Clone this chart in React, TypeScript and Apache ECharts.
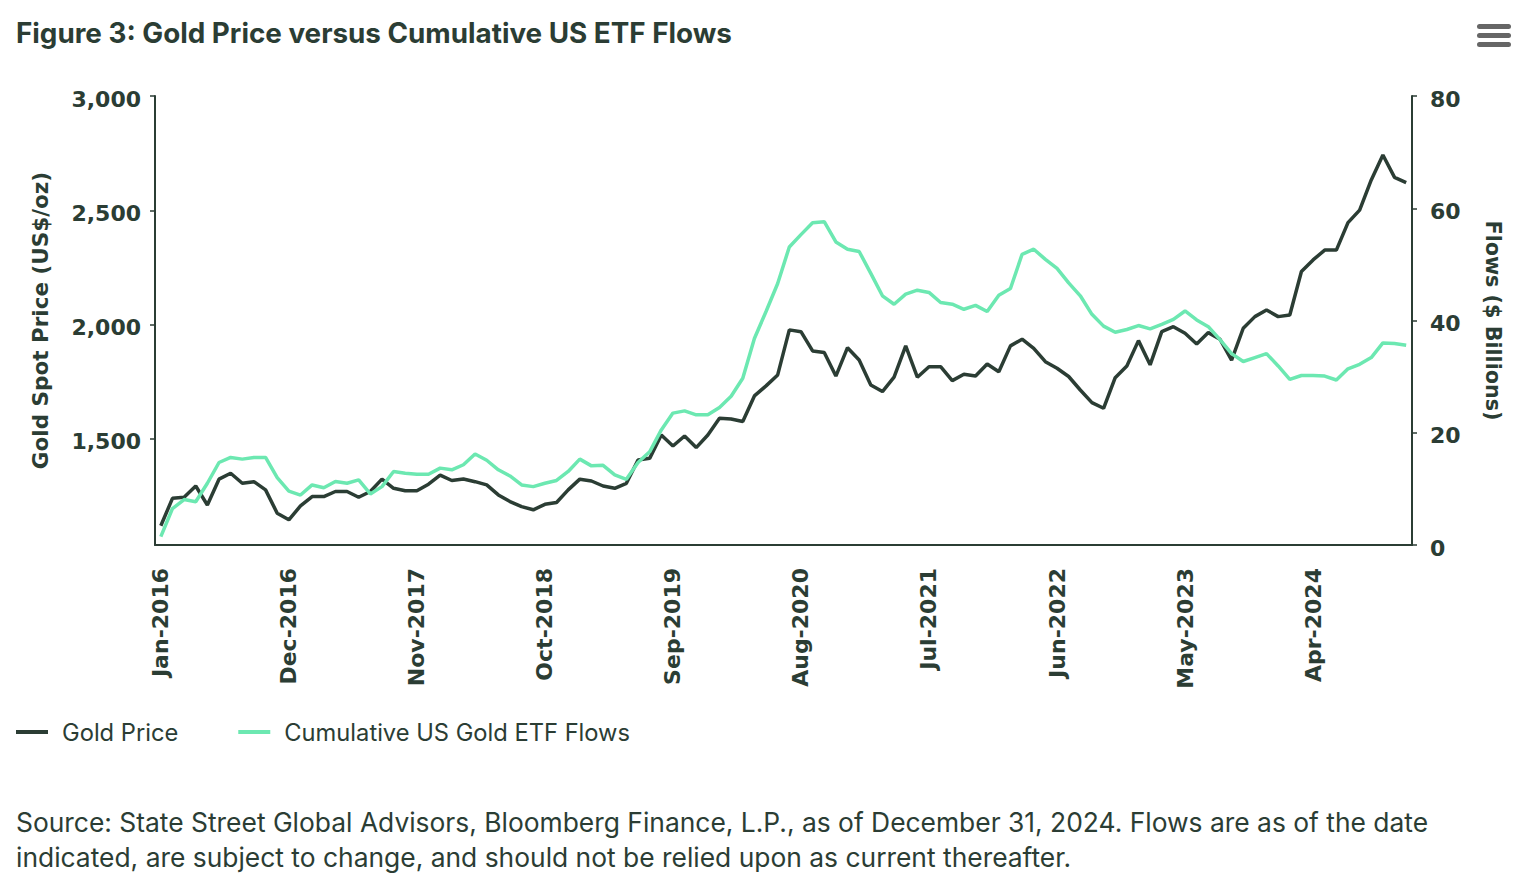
import React, { useEffect, useRef } from "react";
import * as echarts from "echarts";

const MONTHS = ["Jan", "Feb", "Mar", "Apr", "May", "Jun", "Jul", "Aug", "Sep", "Oct", "Nov", "Dec"];
const YEARS = [2016, 2017, 2018, 2019, 2020, 2021, 2022, 2023, 2024];
const categories: string[] = [];
YEARS.forEach((y) => MONTHS.forEach((m) => categories.push(`${m}-${y}`)));

// Gold spot price, US$/oz (month-end)
const goldPrice = [
  1120, 1240, 1245, 1294, 1211, 1324, 1350, 1306, 1313, 1277, 1175, 1146,
  1207, 1248, 1248, 1270, 1270, 1245, 1270, 1324, 1284, 1273, 1273, 1302,
  1342, 1318, 1325, 1313, 1299, 1255, 1226, 1204, 1190, 1214, 1222, 1277,
  1324, 1316, 1294, 1284, 1306, 1408, 1415, 1517, 1469, 1513, 1462, 1517,
  1590, 1587, 1576, 1688, 1732, 1780, 1977, 1969, 1885, 1878, 1775, 1899,
  1845, 1736, 1707, 1770, 1907, 1770, 1816, 1816, 1755, 1783, 1775, 1828,
  1794, 1907, 1936, 1896, 1838, 1809, 1773, 1714, 1659, 1634, 1768, 1819,
  1930, 1824, 1969, 1991, 1962, 1915, 1965, 1936, 1845, 1984, 2035, 2064,
  2035, 2042, 2232, 2283, 2326, 2326, 2446, 2501, 2633, 2742, 2644, 2621,
];

// Cumulative US gold ETF flows, $ billions
const etfFlows = [
  1.5, 6.5, 8.1, 7.7, 11.0, 14.7, 15.6, 15.3, 15.6, 15.6, 12.0, 9.6,
  8.9, 10.7, 10.2, 11.3, 11.0, 11.6, 9.1, 10.4, 13.1, 12.8, 12.6, 12.6,
  13.7, 13.4, 14.3, 16.2, 15.1, 13.4, 12.3, 10.7, 10.4, 11.0, 11.5, 13.1,
  15.3, 14.1, 14.2, 12.5, 11.7, 14.7, 16.6, 20.5, 23.5, 23.9, 23.2, 23.2,
  24.5, 26.5, 29.7, 36.8, 41.6, 46.6, 53.1, 55.3, 57.4, 57.6, 54.0, 52.7,
  52.3, 48.4, 44.4, 42.9, 44.7, 45.4, 45.0, 43.2, 42.9, 42.0, 42.7, 41.6,
  44.5, 45.7, 51.8, 52.7, 50.9, 49.3, 46.7, 44.4, 41.1, 39.0, 37.9, 38.4,
  39.1, 38.5, 39.3, 40.2, 41.7, 40.1, 38.9, 36.6, 34.1, 32.7, 33.4, 34.1,
  31.9, 29.5, 30.2, 30.2, 30.1, 29.4, 31.4, 32.2, 33.4, 36.0, 35.9, 35.6,
];

const leftTicks = [1500, 2000, 2500, 3000];
const rightTicks = [0, 20, 40, 60, 80];

const TITLE = "Figure 3: Gold Price versus Cumulative US ETF Flows";
const SOURCE_1 =
  "Source: State Street Global Advisors, Bloomberg Finance, L.P., as of December 31, 2024. Flows are as of the date";
const SOURCE_2 = "indicated, are subject to change, and should not be relied upon as current thereafter.";

const DARK = "#2b3d34";
const MINT = "#6ce8b1";
const TEXT = "#2b3d34";
const TICK_FONT = "DejaVu Sans";
const BODY_FONT = "Inter";

const fmtThousands = (v: number) => v.toLocaleString("en-US");

export default function App() {
  const ref = useRef<HTMLDivElement>(null);

  useEffect(() => {
    document.body.style.margin = "0";
    const chart = echarts.init(ref.current!, null, { renderer: "svg" });
    const tickRich = {
      t: {
        fontFamily: TICK_FONT,
        fontWeight: "bold",
        fontSize: 22,
        color: TEXT,
        padding: [6, 0, 0, 0],
      },
    };
    chart.setOption({
      animation: false,
      backgroundColor: "#ffffff",
      grid: { left: 155, right: 114, top: 96, bottom: 349, containLabel: false },
      legend: {
        left: 16,
        top: 720,
        padding: 0,
        icon: "rect",
        itemWidth: 32,
        itemHeight: 4,
        itemGap: 60,
        textStyle: {
          fontFamily: BODY_FONT,
          fontSize: 23.7,
          color: TEXT,
          padding: [0, 0, 0, 9],
        },
        data: ["Gold Price", "Cumulative US Gold ETF Flows"],
      },
      xAxis: {
        type: "category",
        data: categories,
        boundaryGap: true,
        axisLine: { lineStyle: { color: DARK, width: 2 } },
        axisTick: { alignWithLabel: true, interval: 10, length: 5, lineStyle: { color: DARK, width: 1.5 } },
        axisLabel: {
          interval: 10,
          rotate: 90,
          margin: 23,
          fontFamily: TICK_FONT,
          fontWeight: "bold",
          fontSize: 22,
          color: TEXT,
        },
        splitLine: { show: false },
      },
      yAxis: [
        {
          type: "value",
          min: 1036,
          max: 3000,
          position: "left",
          name: "Gold Spot Price (US$/oz)",
          nameLocation: "middle",
          nameRotate: 90,
          nameGap: 104,
          nameTextStyle: { fontFamily: TICK_FONT, fontWeight: "bold", fontSize: 21.5, color: TEXT },
          axisLine: { show: true, lineStyle: { color: DARK, width: 2 } },
          axisTick: { show: true, length: 5, customValues: leftTicks, lineStyle: { color: DARK, width: 1.5 } },
          axisLabel: {
            customValues: leftTicks,
            margin: 14,
            formatter: (v: number) => `{t|${fmtThousands(v)}}`,
            rich: tickRich,
          },
          splitLine: { show: false },
        },
        {
          type: "value",
          min: 0,
          max: 80,
          interval: 20,
          position: "right",
          name: "Flows ($ Billions)",
          nameLocation: "middle",
          nameRotate: -90,
          nameGap: 70,
          nameTextStyle: { fontFamily: TICK_FONT, fontWeight: "bold", fontSize: 20.7, color: TEXT },
          axisLine: { show: true, lineStyle: { color: DARK, width: 2 } },
          axisTick: { show: true, length: 5, customValues: rightTicks, lineStyle: { color: DARK, width: 1.5 } },
          axisLabel: {
            customValues: rightTicks,
            margin: 18,
            formatter: (v: number) => `{t|${fmtThousands(v)}}`,
            rich: tickRich,
          },
          splitLine: { show: false },
        },
      ],
      series: [
        {
          name: "Gold Price",
          type: "line",
          yAxisIndex: 0,
          data: goldPrice,
          showSymbol: false,
          symbol: "none",
          lineStyle: { color: DARK, width: 3.5 },
          itemStyle: { color: DARK },
          z: 2,
        },
        {
          name: "Cumulative US Gold ETF Flows",
          type: "line",
          yAxisIndex: 1,
          data: etfFlows,
          showSymbol: false,
          symbol: "none",
          lineStyle: { color: MINT, width: 3.5 },
          itemStyle: { color: MINT },
          z: 3,
        },
      ],
      graphic: [
        {
          type: "text",
          x: 16,
          y: 33,
          style: {
            text: TITLE,
            fontFamily: BODY_FONT,
            fontWeight: "bold",
            fontSize: 27.8,
            fill: TEXT,
            verticalAlign: "middle",
            align: "left",
          },
        },
        { type: "rect", shape: { x: 1477, y: 24, width: 34, height: 5, r: 2.5 }, style: { fill: "#666666" } },
        { type: "rect", shape: { x: 1477, y: 33, width: 34, height: 5, r: 2.5 }, style: { fill: "#666666" } },
        { type: "rect", shape: { x: 1477, y: 42, width: 34, height: 5, r: 2.5 }, style: { fill: "#666666" } },
        {
          type: "text",
          x: 16,
          y: 822,
          style: { text: SOURCE_1, fontFamily: BODY_FONT, fontSize: 26.4, fill: TEXT, verticalAlign: "middle" },
        },
        {
          type: "text",
          x: 16,
          y: 857,
          style: { text: SOURCE_2, fontFamily: BODY_FONT, fontSize: 26.4, fill: TEXT, verticalAlign: "middle" },
        },
      ],
    });
    return () => chart.dispose();
  }, []);

  return <div ref={ref} style={{ width: 1526, height: 894 }} />;
}
